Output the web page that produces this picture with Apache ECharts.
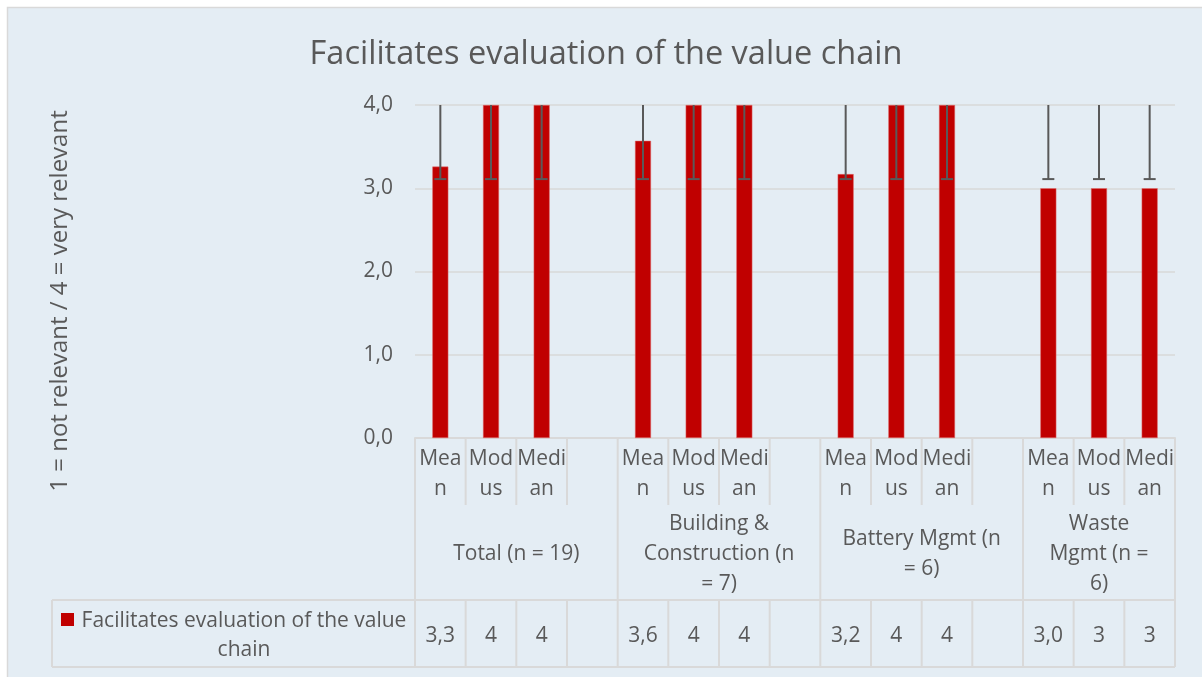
<!DOCTYPE html>
<html>
<head>
<meta charset="utf-8">
<script src="https://cdn.jsdelivr.net/npm/echarts@6/dist/echarts.min.js"></script>
<style>
  html, body { margin: 0; padding: 0; background: #fff; }
  #barCharts { width: 1202px; height: 677px; }
</style>
</head>
<body>
<div id="barCharts"></div>
<script>
// 数据
var titleText = 'Facilitates evaluation of the value chain';
var yAxisName = '1 = not relevant / 4 = very relevant';
var seriesName = 'Facilitates evaluation of the value chain';
var subLabels = ['Mea\nn', 'Mod\nus', 'Medi\nan', '', 'Mea\nn', 'Mod\nus', 'Medi\nan', '', 'Mea\nn', 'Mod\nus', 'Medi\nan', '', 'Mea\nn', 'Mod\nus', 'Medi\nan'];
var groupLabels = ['Total (n = 19)', 'Building &\nConstruction (n\n= 7)', 'Battery Mgmt (n\n= 6)', 'Waste\nMgmt (n =\n6)'];
var groupSizes = [4, 4, 4, 3];
var values = [3.26, 4, 4, null, 3.57, 4, 4, null, 3.17, 4, 4, null, 3.0, 3, 3];
var errLow = [3.11, 3.11, 3.11, null, 3.11, 3.11, 3.11, null, 3.11, 3.11, 3.11, null, 3.11, 3.11, 3.11];
var errHigh = [4, 4, 4, null, 4, 4, 4, null, 4, 4, 4, null, 4, 4, 4];
var tableLabels = ['3,3', '4', '4', '', '3,6', '4', '4', '', '3,2', '4', '4', '', '3,0', '3', '3'];
var yTicks = [0, 1, 2, 3, 4];

var textColor = '#595959';
var lineColor = '#D9D9D9';
var fontFamily = '"Open Sans", sans-serif';

var chart = echarts.init(document.getElementById('barCharts'));
var catKeys = subLabels.map(function (s, i) { return 'c' + i; });

var errData = [];
for (var i = 0; i < errLow.length; i++) {
	if (errLow[i] != null) errData.push([i, errLow[i], errHigh[i]]);
}

var option = {
	backgroundColor: '#fff',
	animation: false,
	title: {
		text: titleText,
		left: 601,
		textAlign: 'center',
		top: 33,
		textStyle: { fontFamily: fontFamily, fontSize: 32.5, fontWeight: 'normal', color: textColor }
	},
	grid: { left: 415, right: 27, top: 105, bottom: 239 },
	xAxis: {
		type: 'category',
		data: catKeys,
		axisLine: { show: true, lineStyle: { color: lineColor, width: 2 } },
		axisTick: { show: false },
		axisLabel: { show: false }
	},
	yAxis: {
		type: 'value',
		min: yTicks[0],
		max: yTicks[yTicks.length - 1],
		interval: 1,
		axisLine: { show: false },
		axisTick: { show: false },
		axisLabel: {
			margin: 22,
			fontFamily: fontFamily,
			fontSize: 21,
			color: textColor,
			formatter: function (v) { return v.toFixed(1).replace('.', ','); }
		},
		splitLine: { lineStyle: { color: lineColor, width: 1.5 } }
	},
	series: [{
		name: seriesName,
		type: 'bar',
		data: values,
		barWidth: 16,
		itemStyle: { color: '#C00000', borderColor: '#E07070', borderWidth: 0.5 },
		z: 2
	}, {
		type: 'custom',
		data: errData,
		z: 3,
		renderItem: function (params, api) {
			var lo = api.coord([api.value(0), api.value(1)]);
			var hi = api.coord([api.value(0), api.value(2)]);
			var st = { stroke: '#595959', lineWidth: 2 };
			return {
				type: 'group',
				children: [
					{ type: 'line', shape: { x1: lo[0], y1: lo[1], x2: hi[0], y2: hi[1] }, style: st },
					{ type: 'line', shape: { x1: lo[0] - 6, y1: lo[1], x2: lo[0] + 6, y2: lo[1] }, style: st }
				]
			};
		}
	}]
};
chart.setOption(option);

// 表格部分（数据表）
function buildTable() {
	var c0 = chart.convertToPixel({ xAxisIndex: 0 }, 0);
	var c1 = chart.convertToPixel({ xAxisIndex: 0 }, 1);
	var w = c1 - c0;
	var left = c0 - w / 2;
	var n = subLabels.length;
	var right = left + w * n;
	var yTop = chart.convertToPixel({ yAxisIndex: 0 }, 0);
	var yRow2 = yTop + 67, yRow3 = yTop + 162, yBottom = yTop + 229;
	var legendLeft = 52;
	var st = { stroke: lineColor, lineWidth: 2 };
	var txt = function (x, y, s, fs) {
		return { type: 'text', x: x, y: y, style: { text: s, fill: textColor, font: (fs || 21) + 'px ' + fontFamily, align: 'center', verticalAlign: 'middle', lineHeight: 30 }, z: 10 };
	};
	var g = [];
	// 图表区背景
	g.push({ type: 'rect', shape: { x: 7.5, y: 7.5, width: 1200, height: 680 }, style: { fill: '#E4EDF4', stroke: lineColor, lineWidth: 1.5 }, z: -10 });
	// 纵轴标题
	g.push({ type: 'text', x: 60, y: 301, rotation: Math.PI / 2, style: { text: yAxisName, fill: textColor, font: '24px ' + fontFamily, align: 'center', verticalAlign: 'middle' }, z: 10 });
	// 第一行: 子类别
	for (var i = 0; i <= n; i++) {
		var x = left + i * w;
		g.push({ type: 'line', shape: { x1: x, y1: yTop, x2: x, y2: yRow2 }, style: st, z: 5 });
		g.push({ type: 'line', shape: { x1: x, y1: yRow3, x2: x, y2: yBottom }, style: st, z: 5 });
	}
	for (var i = 0; i < n; i++) {
		g.push(txt(left + (i + 0.5) * w, yTop + 36, subLabels[i]));
		g.push(txt(left + (i + 0.5) * w, yRow3 + 36, tableLabels[i]));
	}
	// 第二行: 分组
	var start = 0;
	for (var k = 0; k < groupSizes.length; k++) {
		var gx0 = left + start * w;
		var gx1 = left + Math.min(start + groupSizes[k], n) * w;
		g.push({ type: 'line', shape: { x1: gx0, y1: yRow2, x2: gx0, y2: yRow3 }, style: st, z: 5 });
		g.push(txt((gx0 + gx1) / 2, (yRow2 + yRow3) / 2 + 2, groupLabels[k]));
		start += groupSizes[k];
	}
	g.push({ type: 'line', shape: { x1: right, y1: yRow2, x2: right, y2: yRow3 }, style: st, z: 5 });
	// 第三行: 图例 + 数值
	g.push({ type: 'line', shape: { x1: legendLeft, y1: yRow3, x2: right, y2: yRow3 }, style: st, z: 5 });
	g.push({ type: 'line', shape: { x1: legendLeft, y1: yBottom, x2: right, y2: yBottom }, style: st, z: 5 });
	g.push({ type: 'line', shape: { x1: legendLeft, y1: yRow3, x2: legendLeft, y2: yBottom }, style: st, z: 5 });
	g.push({ type: 'rect', shape: { x: 61, y: yRow3 + 13, width: 13, height: 13 }, style: { fill: '#C00000' }, z: 10 });
	g.push(txt(244, yRow3 + 21, 'Facilitates evaluation of the value'));
	g.push(txt(244, yRow3 + 50, 'chain'));
	chart.setOption({ graphic: g });
}
buildTable();
</script>
</body>
</html>
